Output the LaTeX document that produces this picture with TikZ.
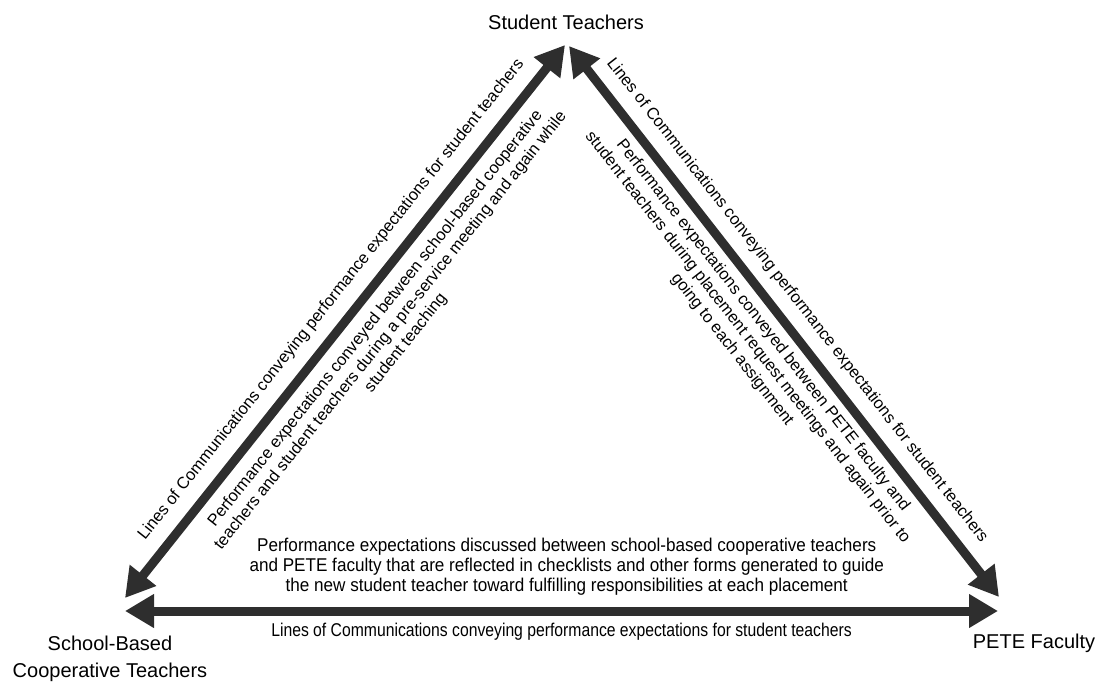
\documentclass[tikz,border=0pt]{standalone}
\usepackage{fontspec}
\setmainfont{Liberation Sans}
\newfontfamily\narrowfont{Liberation Sans}[FakeStretch=0.85]
\newfontfamily\midfont{Liberation Sans}[FakeStretch=0.925]
\usetikzlibrary{arrows.meta}
\tikzset{
  party/.style={font=\fontsize{20}{27}\selectfont, align=center, inner sep=0pt},
  comm/.style={line width=9pt, draw=black!82,
    {Triangle[length=29pt,width=32pt]}-{Triangle[length=29pt,width=32pt]}},
  diag/.style={font=\fontsize{16.5}{19.5}\selectfont, align=center, inner sep=0pt, sloped},
  flat/.style={font=\narrowfont\fontsize{18.5}{20}\selectfont, align=center, inner sep=0pt},
  midflat/.style={font=\midfont\fontsize{18.5}{20}\selectfont, align=center, inner sep=0pt}
}
\begin{document}
\begin{tikzpicture}[x=1pt,y=-1pt]
\useasboundingbox (0,0) rectangle (1100,681);
\node[party] (st) at (566,22) {Student Teachers};
\node[party] (sb) at (110,659) {School-Based\\Cooperative Teachers};
\node[party] (pf) at (1034,643) {PETE Faculty};
\coordinate (stL) at (565,45);
\coordinate (stR) at (569,46);
\coordinate (sbUp) at (125,598);
\coordinate (sbIn) at (125,611);
\coordinate (pfUp) at (999,597);
\coordinate (pfIn) at (998,611);
% three lines of communication
\draw[comm] (sbUp) -- node[diag, pos=.512, above=12pt] {Lines of Communications conveying performance expectations for student teachers}
  node[diag, pos=.53, below=10pt] {Performance expectations conveyed between school-based cooperative\\teachers and student teachers during a pre-service meeting and again while\\student teaching} (stL);
\draw[comm] (stR) -- node[diag, pos=.488, above=11pt] {Lines of Communications conveying performance expectations for student teachers}
  node[diag, pos=.486, below=7pt] {Performance expectations conveyed between PETE faculty and\\student teachers during placement request meetings and again prior to\\going to each assignment} (pfUp);
\draw[comm] (sbIn) -- node[midflat, pos=.506, above=11pt] {Performance expectations discussed between school-based cooperative teachers\\and PETE faculty that are reflected in checklists and other forms generated to guide\\the new student teacher toward fulfilling responsibilities at each placement}
  node[flat, below=7.6pt] {Lines of Communications conveying performance expectations for student teachers} (pfIn);
\end{tikzpicture}
\end{document}
